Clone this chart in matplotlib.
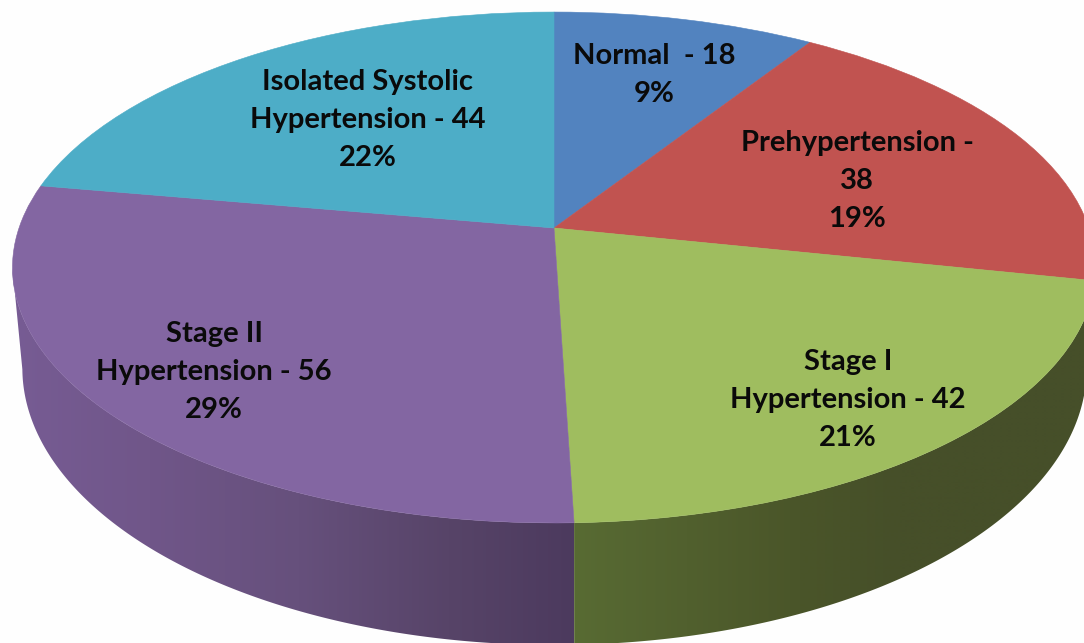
import numpy as np
import matplotlib
matplotlib.use("Agg")
import matplotlib.pyplot as plt
from matplotlib.colors import to_rgb
from matplotlib.patches import Polygon
from matplotlib.transforms import Transform

categories = ["Normal", "Prehypertension", "Stage I Hypertension", "Stage II Hypertension", "Isolated Systolic Hypertension"]
counts = [18, 38, 42, 56, 44]
labels = [
    "Normal  - 18\n9%",
    "Prehypertension -\n38\n19%",
    "Stage I\nHypertension - 42\n21%",
    "Stage II\nHypertension - 56\n29%",
    "Isolated Systolic\nHypertension - 44\n22%",
]
label_x = [654, 857, 848, 214, 368]
label_y = [75, 181, 400, 372, 120]
top_colors = ["#5283BF", "#C15350", "#9FBD5F", "#8366A2", "#4DADC7"]

# wall shading, colour at a few x pixel positions
wall_stops = {
    2: ([574, 800, 900, 1090], ["#586B33", "#4A5529", "#464F29", "#464F29"]),
    3: ([12, 150, 300, 450, 574], ["#775C94", "#705689", "#66507C", "#574468", "#4C3A5E"]),
}


class Persp(Transform):
    """Unit circle pie seen in perspective, ends up in pixel coords."""
    input_dims = 2
    output_dims = 2
    is_separable = False

    def __init__(self, cx, a, c, p, k):
        super().__init__()
        self.cx, self.a, self.c, self.p, self.k = cx, a, c, p, k

    def transform_non_affine(self, xy):
        xy = np.asarray(xy, dtype=float)
        d = 1 + self.k * xy[:, 1]
        return np.column_stack([self.cx + self.a * xy[:, 0] / d, (self.c + self.p * xy[:, 1]) / d])


top_disc = Persp(554, 535, 228, -214.1, 0.1546)
low_disc = Persp(554.5, 526, 326, -221.2, 0.1516)

fig = plt.figure(figsize=(10.84, 6.43), dpi=100, facecolor="#FEFEFE")
ax = fig.add_axes([0, 0, 1, 1])

# side walls first, the top of the pie covers whatever is behind
edges = np.cumsum([0] + counts) / sum(counts) * 2 * np.pi
silhouette = np.radians(261)  # where the left side of the pie turns away
for i, (xs, cols) in wall_stops.items():
    rgb = np.array([to_rgb(c) for c in cols])
    th = np.linspace(edges[i], min(edges[i + 1], silhouette), 240)
    unit = np.column_stack([np.sin(th), np.cos(th)])
    wall = np.vstack([top_disc.transform_non_affine(unit), low_disc.transform_non_affine(unit)[::-1]])
    grid = np.arange(wall[:, 0].min(), wall[:, 0].max() + 1)
    shade = np.column_stack([np.interp(grid, xs, rgb[:, n]) for n in range(3)])[np.newaxis, :, :]
    img = ax.imshow(shade, extent=[grid[0], grid[-1], wall[:, 1].max(), wall[:, 1].min()],
                    aspect="auto", interpolation="bilinear", zorder=1)
    clip = Polygon(wall, closed=True, transform=ax.transData, facecolor="none", edgecolor="none")
    ax.add_patch(clip)
    img.set_clip_path(clip)

wedges, _ = ax.pie(
    counts, colors=top_colors, startangle=90, counterclock=False, radius=1,
    wedgeprops={"transform": top_disc + ax.transData, "linewidth": 0.4, "zorder": 2},
)
for w, c in zip(wedges, top_colors):
    w.set_edgecolor(c)

ax.set_aspect("auto")
ax.set_xlim(0, 1084)
ax.set_ylim(643, 0)
ax.axis("off")

for txt, x, y in zip(labels, label_x, label_y):
    ax.text(x, y, txt, ha="center", va="center", family="Lato", weight="bold",
            fontsize=21, color="#0A0A0A", linespacing=1.56, zorder=3)

fig.savefig("out.png", dpi=100, facecolor=fig.get_facecolor())
